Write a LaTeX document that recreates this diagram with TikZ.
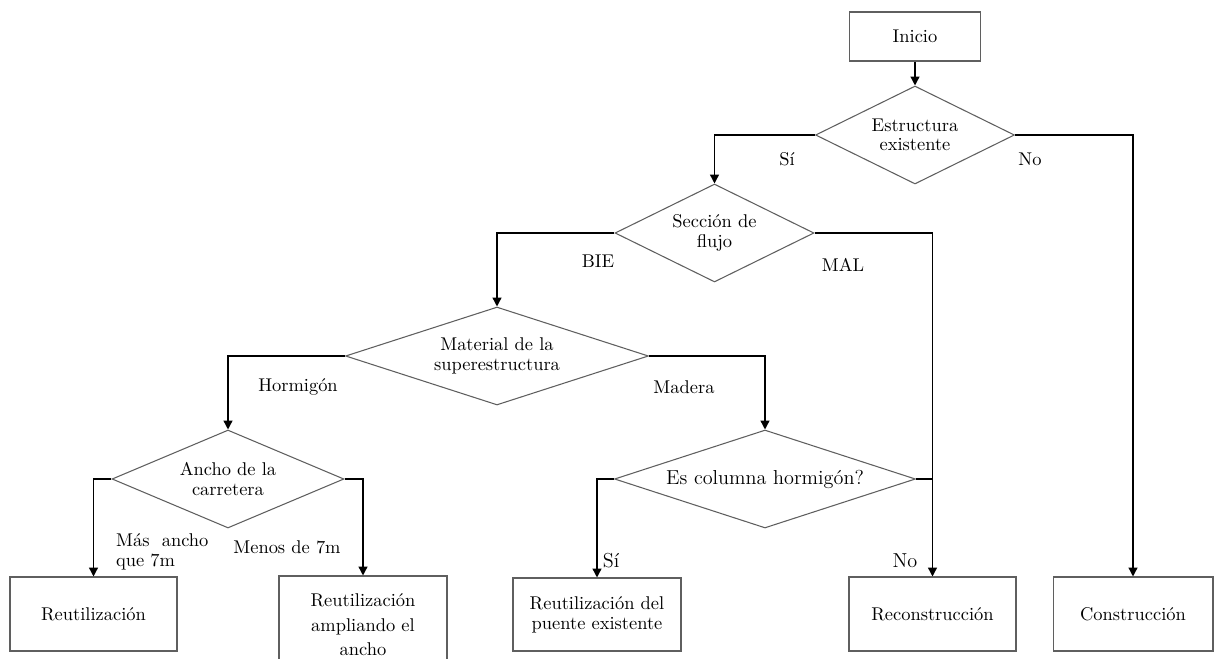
\documentclass[tikz,border=0pt]{standalone}
\usepackage{tikz}
\usetikzlibrary{shapes.geometric,arrows.meta,positioning}
\definecolor{edgegray}{RGB}{95,95,95}
\tikzset{
  procbox/.style={draw=edgegray,line width=0.6pt,minimum width=#1,minimum height=1.48cm,align=center,inner sep=2pt,font=\fontsize{10.5}{11.5}\selectfont},
  decbox/.style={draw=edgegray,diamond,line width=0.6pt,shape aspect=#1,minimum height=1.96cm,inner sep=0pt,align=center,font=\fontsize{10.5}{11}\selectfont},
}

\begin{document}
\begin{tikzpicture}[
    x=0.02cm,y=-0.02cm,
    conn/.style={-{Triangle[length=5pt,width=5pt]},line width=0.8pt},
    link/.style={line width=0.8pt},
    label/.style={font=\fontsize{10.5}{11}\selectfont,inner sep=1pt},
  ]
    \fill[white] (0,0) rectangle (1214,659);
    \useasboundingbox (0,0) rectangle (1214,659);

    %────────── INICIO ─────────────
    \node[procbox=2.62cm,minimum height=0.98cm] (inicio) at (915,36.5) {Inicio};

    %────────── ESTRUCTURA ─────────
    \node[decbox=2.03,minimum width=3.98cm] (estr) at (915,135) {Estructura\\existente};
    \draw[conn] (inicio) -- (estr);
    \node[label] (lsi) at (787,159) {Sí};
    \node[label] (lno) at (1030,159) {No};

    %────────── SECCION ────────────
    \node[decbox=2.03,minimum width=3.98cm] (secc) at (714.5,233) {Sección de\\flujo};
    \node[label] (lbie) at (598,261) {BIE};
    \node[label] (lmal) at (843,265) {MAL};

    %────────── MATERIAL ───────────
    \node[decbox=3.09,minimum width=6.06cm] (mat) at (497,356) {Material de la\\superestructura};
    \node[label] (lhorm) at (298,387) {Hormigón};
    \node[label] (lmad) at (684,387) {Madera};

    %────────── ANCHO ──────────────
    \node[decbox=2.37,minimum width=4.64cm] (ancho) at (228,479) {Ancho de la\\carretera};
    \node[label,align=left,anchor=west] (lmas) at (114,552) {Más\ \ ancho\\que 7m};
    \node[label] (lmenos) at (287,547) {Menos de 7m};

    %────────── COLUMNA ────────────
    \node[decbox=3.07,minimum width=6.02cm,font=\fontsize{11.5}{12}\selectfont] (escol) at (765,479) {Es columna hormigón?};
    \node[label,font=\fontsize{11.5}{12}\selectfont] (lsi2) at (611,561) {Sí};
    \node[label,font=\fontsize{11.5}{12}\selectfont] (lno2) at (905,561) {No};

    %────────── RESULTADOS ─────────
    \node[procbox=3.34cm] (reut) at (93.5,614) {Reutilización};
    \node[procbox=3.36cm,minimum height=1.96cm,font=\fontsize{10.5}{14}\selectfont] (ampl) at (363,625) {Reutilización\\ampliando el\\ancho};
    \node[procbox=3.36cm,minimum height=1.46cm] (puente) at (597,614.5) {Reutilización del\\puente existente};
    \node[procbox=3.34cm] (recon) at (932.5,614) {Reconstrucción};
    \node[procbox=3.2cm] (constr) at (1133,614) {Construcción};

    %────────── CONECTORES ─────────
    \draw[conn] (estr.west) -| (secc.north);
    \draw[conn] (estr.east) -| (constr.north);
    \draw[conn] (secc.west) -| (mat.north);
    \draw[conn] (secc.east) -| (recon.north);
    \draw[conn] (mat.west) -| (ancho.north);
    \draw[conn] (mat.east) -| (escol.north);
    \draw[conn] (ancho.west) -| (reut.north);
    \draw[conn] (ancho.east) -| (ampl.north);
    \draw[conn] (escol.west) -| (puente.north);
    \draw[link] (escol.east) -- (escol.east -| recon.north);
  \end{tikzpicture}
\end{document}
